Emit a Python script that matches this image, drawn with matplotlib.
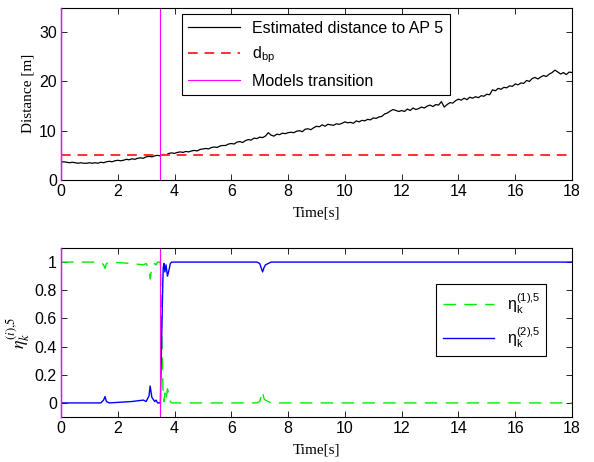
import numpy as np
import matplotlib
matplotlib.use("Agg")
from matplotlib import pyplot as plt

# estimated distance to AP 5, sampled every 0.1 s from 0 to 18 s
dist = [3.6, 3.7, 3.6, 3.5, 3.6, 3.5, 3.4, 3.5, 3.4, 3.4, 3.5,
        3.4, 3.5, 3.4, 3.6, 3.5, 3.7, 3.8, 3.7, 3.9, 4.0,
        3.9, 4.0, 4.2, 4.1, 4.3, 4.2, 4.4, 4.5, 4.4, 4.7,
        4.8, 4.7, 4.9, 5.0, 4.9, 5.2, 5.1, 5.4, 5.5, 5.4,
        5.6, 5.7, 5.6, 5.8, 5.7, 5.9, 6.0, 5.9, 6.2, 6.3,
        6.4, 6.3, 6.6, 6.7, 6.6, 6.9, 7.0, 7.0, 7.3, 7.4,
        7.3, 7.7, 7.8, 7.6, 8.0, 8.2, 8.1, 8.5, 8.4, 8.7,
        8.6, 8.9, 9.6, 9.1, 8.9, 9.3, 9.2, 9.5, 9.4, 9.6,
        9.7, 9.6, 9.9, 10.0, 9.8, 10.3, 10.4, 10.2, 10.6, 10.9,
        10.8, 11.2, 10.9, 11.3, 11.2, 11.1, 11.4, 11.3, 11.5, 11.8,
        11.6, 11.7, 11.5, 12.0, 11.8, 12.1, 12.0, 12.3, 12.2, 12.6,
        12.5, 12.8, 12.9, 13.4, 13.6, 14.0, 14.3, 14.1, 13.9, 14.1,
        13.9, 14.4, 14.1, 14.6, 14.3, 14.5, 14.8, 14.6, 15.0, 15.2,
        14.9, 15.3, 15.2, 15.9, 14.8, 15.3, 15.7, 15.6, 16.1, 16.4,
        16.2, 16.6, 16.3, 16.8, 16.6, 16.9, 16.7, 17.1, 17.0, 17.4,
        17.3, 18.3, 18.1, 18.6, 18.4, 18.8, 18.7, 19.1, 19.0, 19.5,
        19.3, 19.7, 19.6, 20.2, 20.0, 20.6, 20.8, 20.5, 20.9, 21.2,
        21.0, 21.5, 21.8, 22.3, 21.9, 21.5, 21.8, 21.4, 21.9, 21.8]
t_dist = np.linspace(0, 18, len(dist))
d_bp = 5.0
t_transition = 3.48

t_eta = [0, 1.4, 1.5, 1.55, 1.6, 1.7, 2.5, 2.9, 3.0, 3.1, 3.14, 3.2, 3.3,
         3.35, 3.4, 3.5, 3.52, 3.55, 3.58, 3.6, 3.63, 3.66, 3.7, 3.75, 3.8,
         3.85, 3.9, 4.0, 4.3, 6.9, 7.0, 7.1, 7.15, 7.2, 7.3, 7.4, 18]
eta2 = [0, 0, 0.02, 0.045, 0.01, 0, 0.01, 0.02, 0.01, 0.05, 0.12, 0.04, 0.01,
        0.02, 0, 0.0, 0.2, 0.5, 0.8, 0.96, 0.99, 0.93, 0.98, 0.9, 0.94,
        0.99, 1.0, 1.0, 1.0, 1.0, 0.99, 0.93, 0.96, 0.98, 0.99, 1.0, 1.0]
eta1 = [1, 1, 0.98, 0.955, 0.99, 1, 0.99, 0.98, 0.99, 0.95, 0.88, 0.96, 0.99,
        0.98, 1, 1, 0.8, 0.5, 0.2, 0.04, 0.01, 0.07, 0.02, 0.1, 0.06,
        0.01, 0, 0, 0, 0, 0.01, 0.08, 0.03, 0.02, 0.01, 0, 0]

plt.rcParams['font.family'] = ['Liberation Sans', 'DejaVu Sans']
plt.rcParams['font.size'] = 11
plt.rcParams['mathtext.fontset'] = 'custom'
plt.rcParams['mathtext.rm'] = 'Liberation Sans'
plt.rcParams['mathtext.it'] = 'Liberation Sans:italic'

fig = plt.figure(figsize=(5.94, 4.62), dpi=100)
W, H = 594.0, 462.0
ax1 = fig.add_axes([61 / W, 1 - 180 / H, 511 / W, 172.5 / H])
ax2 = fig.add_axes([61 / W, 1 - 417 / H, 511 / W, 169 / H])

ax1.plot(t_dist, dist, color='black', lw=0.9, label='Estimated distance to AP 5')
ax1.axhline(d_bp, color='#ff3030', ls=(0, (5, 3.5)), lw=1.4, label=r'd$_{\mathrm{bp}}$')
ax1.axvline(t_transition, color='#ff00ff', lw=0.8, label='Models transition')
ax1.set_xlim(0, 18)
ax1.set_ylim(0, 35)
ax1.set_xticks(range(0, 19, 2))
ax1.set_yticks([0, 10, 20, 30])
ax1.set_xlabel('Time[s]', family='Liberation Serif', fontsize=11, labelpad=5)
ax1.set_ylabel('Distance [m]', family='Liberation Serif', fontsize=11, labelpad=3)
leg1 = ax1.legend(loc='upper left', bbox_to_anchor=(0.237, 0.96), fancybox=False,
                  edgecolor='black', framealpha=1, handlelength=3.2, fontsize=11.5,
                  borderaxespad=0, labelspacing=0.55, borderpad=0.4)
leg1.get_frame().set_linewidth(0.8)

ax2.plot(t_eta, eta1, color='#00ee00', ls=(0, (9, 6)), lw=1.0,
         label=r'$\mathrm{\eta_k^{(1){,}5}}$')
ax2.plot(t_eta, eta2, color='#0000ff', lw=1.0, label=r'$\mathrm{\eta_k^{(2){,}5}}$')
ax2.axvline(t_transition, color='#ff00ff', lw=0.8)
ax2.set_xlim(0, 18)
ax2.set_ylim(-0.1, 1.1)
ax2.set_xticks(range(0, 19, 2))
ax2.set_yticks([0, 0.2, 0.4, 0.6, 0.8, 1])
ax2.set_yticklabels(['0', '0.2', '0.4', '0.6', '0.8', '1'])
ax2.set_xlabel('Time[s]', family='Liberation Serif', fontsize=11, labelpad=5)
ax2.set_ylabel(r'$\eta_k^{(i){,}5}$', fontsize=13, labelpad=2, math_fontfamily='stix')
leg2 = ax2.legend(loc='upper right', bbox_to_anchor=(0.95, 0.785), fancybox=False,
                  edgecolor='black', framealpha=1, handlelength=3.2, fontsize=11.5,
                  borderaxespad=0, labelspacing=0.6, borderpad=0.4)
leg2.get_frame().set_linewidth(0.8)

for ax in (ax1, ax2):
    ax.axvline(0, color='#ff00ff', lw=1.0, zorder=3, clip_on=False)
    ax.tick_params(direction='in', top=True, right=True, length=4, width=0.6,
                   pad=3, labelsize=11.5)
    for s in ax.spines.values():
        s.set_linewidth(0.8)

fig.savefig('out.png', dpi=100)
